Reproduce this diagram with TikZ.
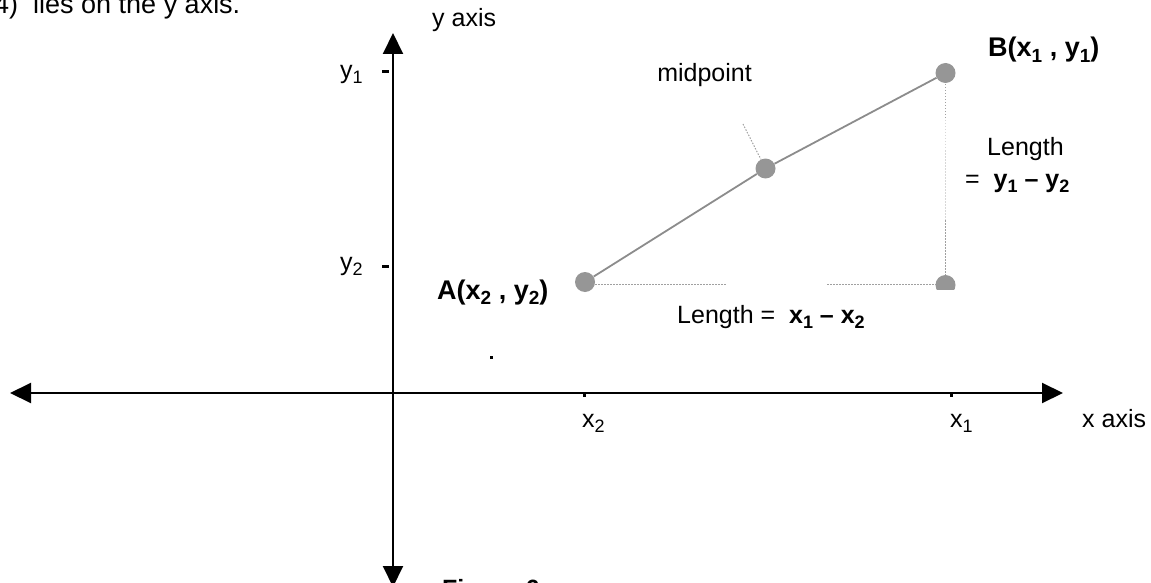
\documentclass[tikz,border=0pt]{standalone}
\usepackage{fontspec}
\setmainfont{Liberation Sans}
\usetikzlibrary{arrows.meta}
\definecolor{ptgray}{RGB}{150,150,150}
\definecolor{lngray}{RGB}{140,140,140}
\definecolor{dtgray}{RGB}{160,160,160}
\definecolor{dtlight}{RGB}{215,215,215}
\newcommand{\lsub}[1]{\raisebox{-0.2em}{\fontsize{18}{18}\selectfont #1}}
\newcommand{\bsub}[1]{\raisebox{-0.2em}{\fontsize{19}{19}\selectfont #1}}
\tikzset{
  lab/.style={font=\fontsize{25}{30}\selectfont, inner sep=0pt, anchor=base west},
  blab/.style={font=\fontsize{27}{30}\selectfont\bfseries, inner sep=0pt, anchor=base west},
  pt/.style={circle, fill=ptgray, minimum size=20pt, inner sep=0pt},
  axis/.style={line width=2pt, {Triangle[length=21pt,width=20pt]}-{Triangle[length=21pt,width=20pt]}},
  segline/.style={draw=lngray, line width=1.8pt},
  dotline/.style={draw=dtgray, line width=1pt, dash pattern=on 1.5pt off 1.5pt},
  tickmark/.style={line width=3pt}
}
\begin{document}
\begin{tikzpicture}[x=1pt,y=-1pt]
\useasboundingbox (0,0) rectangle (1151,583);
\clip (0,0) rectangle (1151,583);
% axes
\coordinate (xl) at (10,393);
\coordinate (xr) at (1063,393);
\coordinate (yt) at (393,33);
\coordinate (yb) at (393,587);
\draw[axis] (xl) -- (xr);
\draw[axis] (yb) -- (yt);
% ticks
\coordinate (ty1a) at (382,72); \coordinate (ty1b) at (389,72);
\coordinate (ty2a) at (382,266); \coordinate (ty2b) at (389,266);
\draw[tickmark] (ty1a) -- (ty1b);
\draw[tickmark] (ty2a) -- (ty2b);
\coordinate (tx2a) at (584.5,392); \coordinate (tx2b) at (584.5,396.5);
\coordinate (tx1a) at (951.5,392); \coordinate (tx1b) at (951.5,396.5);
\draw[tickmark] (tx2a) -- (tx2b);
\draw[tickmark] (tx1a) -- (tx1b);
% points
\node[pt] (A) at (585,282) {};
\node[pt] (B) at (945.5,73) {};
\node[pt] (M) at (765.5,168.5) {};
\begin{scope}
\clip (900,250) rectangle (1000,289.5);
\node[pt] (C) at (945.5,285) {};
\end{scope}
\draw[segline] (A) -- (M) -- (B);
% dotted guides
\coordinate (h0) at (595,284.3);
\coordinate (h1) at (727,284.3);
\coordinate (h2) at (827,284.3);
\coordinate (h3) at (936,284.3);
\draw[dotline] (h0) -- (h1);
\draw[dotline] (h2) -- (h3);
\coordinate (v0) at (945.5,84);
\coordinate (v1) at (945.5,120);
\coordinate (v2) at (945.5,220);
\coordinate (v3) at (945.5,275);
\draw[dotline] (v0) -- (v1);
\draw[dotline, draw=dtlight] (v1) -- (v2);
\draw[dotline] (v2) -- (v3);
\coordinate (lead) at (743,124);
\draw[dotline] (lead) -- (M);
% small dot
\fill (490,356) rectangle (493,358.5);
% labels
\node[lab, font=\fontsize{27}{30}\selectfont] (t0) at (-6,14) {4)\ \ lies on the y axis.};
\node[lab] (yax) at (432,27) {y axis};
\node[lab] (ly1) at (340,79) {y\lsub{1}};
\node[lab] (ly2) at (340,270) {y\lsub{2}};
\node[lab, anchor=base east] (mid) at (752,82) {midpoint};
\node[blab] (lB) at (988,57) {B(x\bsub{1}\ , y\bsub{1})};
\node[lab] (len1) at (987,156) {Length};
\node[lab] (len1b) at (965,187) {=\ \ \textbf{y\lsub{1} – y\lsub{2}}};
\node[blab] (lA) at (437,299) {A(x\bsub{2}\ , y\bsub{2})};
\node[lab] (len2) at (677,323) {Length =\ \ \textbf{x\lsub{1} – x\lsub{2}}};
\node[lab] (lx2) at (582,427) {x\lsub{2}};
\node[lab] (lx1) at (950,427) {x\lsub{1}};
\node[lab] (xax) at (1082,427) {x axis};
\node[lab] (fig) at (442,597) {\textbf{Figure 6}};
\end{tikzpicture}
\end{document}
